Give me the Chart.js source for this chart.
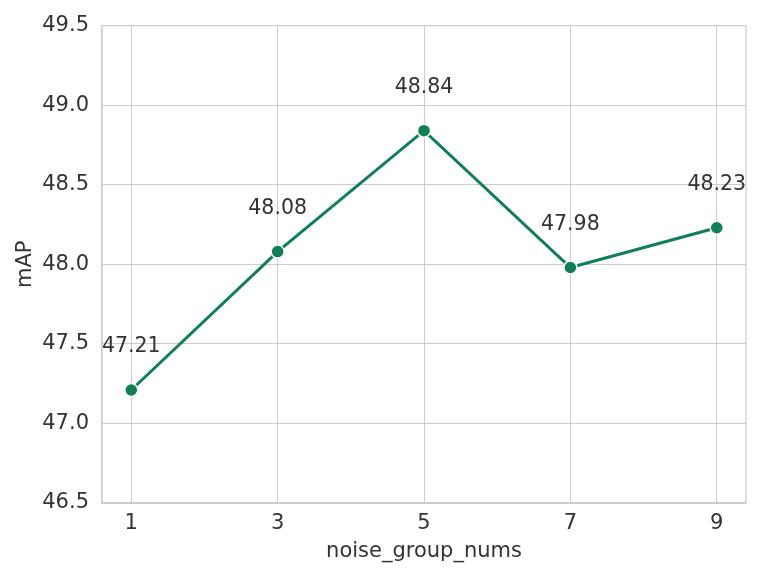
<!DOCTYPE html>
<html>
<head>
<meta charset="utf-8">
<script src="https://cdn.jsdelivr.net/npm/chart.js@4/dist/chart.umd.min.js"></script>
<style>
  html, body { margin: 0; padding: 0; background: #fff; }
  #wrap { width: 758px; height: 575px; }
</style>
</head>
<body>
<div id="wrap"><canvas id="myChart" width="758" height="575"></canvas></div>
<script>
// Datos del gráfico
const groupNums = [1, 3, 5, 7, 9];
const mapValues = [47.21, 48.08, 48.84, 47.98, 48.23];
const yTicks = [46.5, 47.0, 47.5, 48.0, 48.5, 49.0, 49.5];

const lineColor = '#0f7f55';
const textColor = '#333333';
const gridColor = '#cccccc';

// Marco alrededor del área del gráfico
const frame = {
    id: 'frame',
    beforeDatasetsDraw(chart) {
        const a = chart.chartArea;
        const ctx = chart.ctx;
        ctx.save();
        ctx.strokeStyle = gridColor;
        ctx.lineWidth = 1.2;
        ctx.strokeRect(a.left, a.top, a.right - a.left, a.bottom - a.top);
        ctx.restore();
    }
};

// Etiquetas de valor encima de cada punto
const valueLabels = {
    id: 'valueLabels',
    afterDatasetsDraw(chart) {
        const ctx = chart.ctx;
        const meta = chart.getDatasetMeta(0);
        ctx.save();
        ctx.font = '20.5px "DejaVu Sans"';
        ctx.fillStyle = textColor;
        ctx.textAlign = 'center';
        ctx.textBaseline = 'middle';
        meta.data.forEach((pt, i) => {
            ctx.fillText(mapValues[i].toFixed(2), pt.x, pt.y - 43);
        });
        ctx.restore();
    }
};

const config = {
    type: 'line',
    data: {
        datasets: [{
            label: 'mAP',
            data: groupNums.map((x, i) => ({ x: x, y: mapValues[i] })),
            borderColor: lineColor,
            borderWidth: 3,
            pointBackgroundColor: lineColor,
            pointBorderColor: '#ffffff',
            pointBorderWidth: 1.5,
            pointRadius: 6.5,
            tension: 0
        }]
    },
    options: {
        responsive: false,
        animation: false,
        layout: { padding: { top: 24, right: 12, left: 0, bottom: 0 } },
        plugins: {
            legend: { display: false },
            tooltip: { enabled: false }
        },
        scales: {
            x: {
                type: 'linear',
                min: 0.6,
                max: 9.4,
                afterBuildTicks: (scale) => {
                    scale.ticks = groupNums.map(v => ({ value: v }));
                },
                afterFit: (scale) => { scale.height = 72; },
                grid: { color: gridColor, lineWidth: 1, drawTicks: false },
                border: { color: gridColor, width: 1.2 },
                ticks: {
                    color: textColor,
                    font: { family: 'DejaVu Sans', size: 21 },
                    padding: 8,
                    callback: (v) => String(v)
                },
                title: {
                    display: true,
                    text: 'noise_group_nums',
                    color: textColor,
                    font: { family: 'DejaVu Sans', size: 21 },
                    padding: 11
                }
            },
            y: {
                min: 46.5,
                max: 49.5,
                afterBuildTicks: (scale) => {
                    scale.ticks = yTicks.map(v => ({ value: v }));
                },
                afterFit: (scale) => { scale.width = 102; },
                grid: { color: gridColor, lineWidth: 1, drawTicks: false },
                border: { color: gridColor, width: 1.2 },
                ticks: {
                    color: textColor,
                    font: { family: 'DejaVu Sans', size: 21 },
                    padding: 13,
                    callback: (v) => Number(v).toFixed(1)
                },
                title: {
                    display: true,
                    text: 'mAP',
                    color: textColor,
                    font: { family: 'DejaVu Sans', size: 21 },
                    padding: 13
                }
            }
        }
    },
    plugins: [frame, valueLabels]
};

var myChart = new Chart(document.getElementById('myChart'), config);
</script>
</body>
</html>
